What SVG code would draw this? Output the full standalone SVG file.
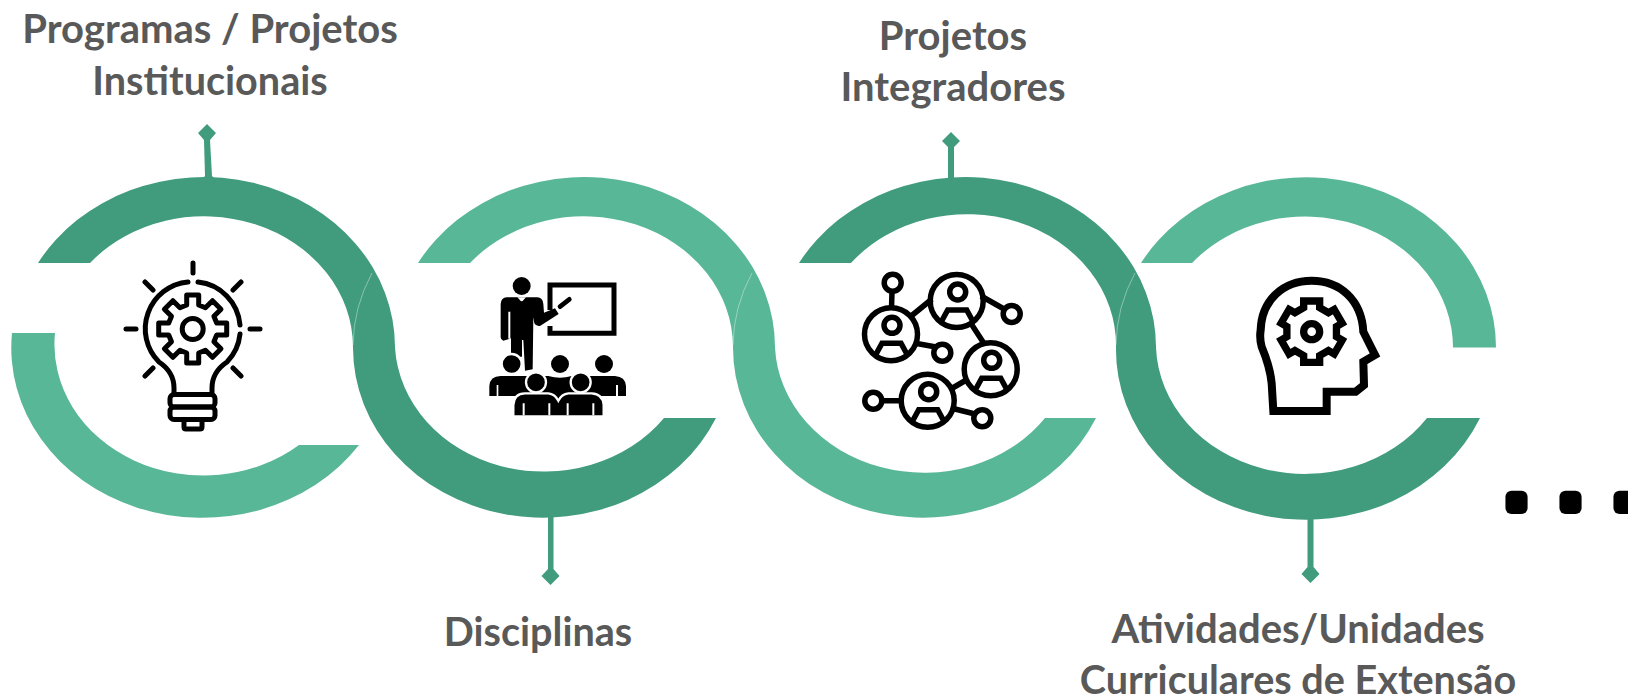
<svg xmlns="http://www.w3.org/2000/svg" width="1628" height="696" viewBox="0 0 1628 696">
<style>
.t{font-family:Lato,"Open Sans","Liberation Sans",sans-serif;font-weight:700;font-size:40px;fill:#595959;text-anchor:middle}
.s{font-size:39.600px}
.d{fill:#409c7d}.l{fill:#58b796}
.h{fill:none;stroke:#fff;stroke-width:.7;stroke-opacity:.55}
.b{fill:none;stroke:#000;stroke-width:5;stroke-linecap:round;stroke-linejoin:round}
.n{fill:none;stroke:#000;stroke-width:5.500}
.w{fill:#fff}
.k{fill:#000}
.kw{fill:#000;stroke:#fff;stroke-width:7}
</style>
<defs>
<g id="person">
<circle r="26.500"/>
<circle cx="1" cy="-9" r="8"/>
<path d="M-15 20L-9 9H10L16 20"/>
</g>
</defs>
<rect width="1628" height="696" fill="#fff"/>
<g id="connectors">
<path class="d" d="M207 124L216 133L210 140L212 176L215 179H202L205 176L204 140L198 133Z"/>
<path class="d" d="M951 132L960 141L954 147V180H948V147L942 141Z"/>
<path class="d" d="M550.500 585L541.500 576L548 569V515H553.500V569L559.500 576Z"/>
<path class="d" d="M1310.500 583L1301.500 574L1307.500 567V515H1313.500V567L1319.500 574Z"/>
</g>
<g id="n1">
<path class="d" d="M38 263A191 170 0 0 1 395 347.500H353A149 131 0 0 0 90 263Z"/>
<path class="l" d="M12 333A191 170 0 0 0 359 445H299A149 131 0 0 1 55 333Z"/>
<g class="b">
<path d="M193 263V273M126 329H136M250 329H260M145 282L153 290M241 282L233 290M145 376L153 368M241 376L233 368"/>
<path d="M188 282A47 47 0 0 0 159 362Q174 372 174 388V394M198 282A47 47 0 0 1 240 325M240 334A47 47 0 0 1 227 362Q212 372 212 388V394"/>
<rect x="170" y="394.500" width="45" height="12.500" rx="4"/>
<rect x="170" y="407" width="45" height="12.500" rx="4"/>
<path d="M184 420V427Q184 429 186 429H200Q202 429 202 427V420"/>
<circle cx="192.700" cy="329" r="10.500"/>
<path transform="translate(192.700 329)" d="M-6 -24V-34H6V-24L12.730 -21.210L19.800 -28.280L28.280 -19.800L21.210 -12.730L24 -6H34V6H24L21.210 12.730L28.280 19.800L19.800 28.280L12.730 21.210L6 24V34H-6V24L-12.730 21.210L-19.800 28.280L-28.280 19.800L-21.210 12.730L-24 6H-34V-6H-24L-21.210 -12.730L-28.280 -19.800L-19.800 -28.280L-12.730 -21.210Z"/>
</g>
<text class="t" x="210" y="43">Programas / Projetos</text>
<text class="t s" x="210" y="95">Institucionais</text>
</g>
<g id="n2">
<path class="l" d="M418 263A191 170 0 0 1 775 347.500H733A149 131 0 0 0 470 263Z"/>
<path class="d" d="M353 347.500A190 170 0 0 0 716 418H664A149 131 0 0 1 395 347.500V345H353Z"/>
<path class="h" d="M353 345A190 170 0 0 1 372 273"/>
<g transform="translate(440 240) scale(.33333)">
<path d="M330 210V135H522V280H330V258" fill="none" stroke="#000" stroke-width="15"/>
<path d="M360 200L388 178" stroke="#000" stroke-width="14" stroke-linecap="round"/>
<circle cx="245" cy="138" r="27"/>
<path d="M200 172H292Q308 172 310 192L312 218L345 205L356 222L300 258Q288 260 283 250L280 232L278 388L255 392L250 300H246V350H213V295L190 302Q182 300 182 292V192Q184 172 200 172Z"/>
<path class="w" d="M232 172H258L245 186ZM205 215H211V296H205Z"/>
<path class="k" d="M241 184H249L253 200L245 212L237 200Z"/>
</g>
<g transform="translate(480 340) scale(.33333)">
<circle class="k" cx="240" cy="72" r="27"/>
<circle class="k" cx="372" cy="72" r="27"/>
<circle class="kw" cx="95" cy="72" r="30"/>
<path class="k" d="M28 168V138Q30 108 62 108H205Q240 118 275 108H405Q436 110 438 138V168H414V135H408V168H335L240 180L130 168H55V135H50V168Z"/>
<circle class="kw" cx="168" cy="127" r="30"/>
<circle class="kw" cx="302" cy="127" r="30"/>
<path class="kw" d="M100 229V195Q102 160 135 160H205Q225 162 235 182Q245 162 265 160H335Q369 162 371 195V229Z"/>
<path class="w" d="M128 190H134V226H128ZM205 190H211V226H205ZM260 190H266V226H260ZM337 190H343V226H337Z"/>
</g>
<text class="t s" x="538" y="646">Disciplinas</text>
</g>
<g id="n3">
<path class="d" d="M799 263A191 170 0 0 1 1156 347.500H1116A149 131 0 0 0 851 263Z"/>
<path class="l" d="M733 347.500A190 170 0 0 0 1096 418H1045A149 131 0 0 1 775 347.500V345H733Z"/>
<path class="h" d="M733 345A190 170 0 0 1 752 273"/>
<g class="n">
<use href="#person" x="891" y="334.300"/>
<use href="#person" x="956.700" y="301"/>
<use href="#person" x="990.700" y="369.300"/>
<use href="#person" x="927.700" y="400.700"/>
<circle cx="892.700" cy="282.700" r="8.500"/>
<circle cx="942.300" cy="352.700" r="8.500"/>
<circle cx="1011.700" cy="314" r="8.500"/>
<circle cx="873.300" cy="400.700" r="8.500"/>
<circle cx="982.300" cy="418.300" r="8.500"/>
<path d="M892 291L891.500 309M910 317L932 299M981 296L1004 309M970 322L985 345M914 343L936 347M950 389.500L968 379M881 400.700H903M951 408L975 414"/>
</g>
<text class="t" x="953" y="50">Projetos</text>
<text class="t" x="953" y="101">Integradores</text>
</g>
<g id="n4">
<path class="l" d="M1141 263A190 170 0 0 1 1496 347.500H1453A148 131 0 0 0 1192 263Z"/>
<path class="d" d="M1116 347.500A190 170 0 0 0 1480 418H1427A149 131 0 0 1 1156 347.500V345H1116Z"/>
<path class="h" d="M1116 345A190 170 0 0 1 1135 273"/>
<g transform="translate(1230 270) scale(.33333)">
<path d="M130 423L125 340Q120 290 95 230Q88 205 92 180C95 90 160 32 245 32C330 32 395 90 400 185L435 255L400 275L402 345L377 365H290V423Z" fill="none" stroke="#000" stroke-width="24"/>
<g transform="translate(245 185)" fill="none" stroke="#000" stroke-width="22">
<circle r="24"/>
<path d="M-24 -72V-92H24V-72L50.350 -56.780L67.670 -66.780L91.670 -25.220L74.350 -15.220V15.220L91.670 25.220L67.670 66.780L50.350 56.780L24 72V92H-24V72L-50.350 56.780L-67.670 66.780L-91.670 25.220L-74.350 15.220V-15.220L-91.670 -25.220L-67.670 -66.780L-50.350 -56.780Z"/>
</g>
</g>
<text class="t" x="1298" y="643">Atividades/Unidades</text>
<text class="t s" x="1298" y="694">Curriculares de Extensão</text>
</g>
<text id="more" x="1505.500" y="508" font-family="'DejaVu Sans',sans-serif" font-weight="700" font-size="58" letter-spacing="32" fill="#000" stroke="#000" stroke-width="12" stroke-linejoin="round">...</text>
</svg>
